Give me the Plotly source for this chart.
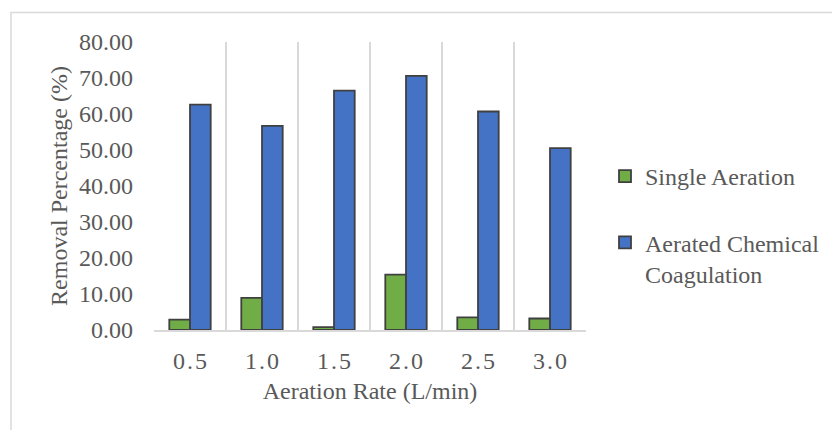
import plotly.graph_objects as go

# Aeration rates (L/min) and removal percentages for the two treatments
rates = ["0\u200a.\u200a5", "1\u200a.\u200a0", "1\u200a.\u200a5", "2\u200a.\u200a0", "2\u200a.\u200a5", "3\u200a.\u200a0"]
single_aeration = [2.9, 8.9, 0.8, 15.4, 3.5, 3.2]
aerated_coagulation = [62.6, 56.7, 66.5, 70.6, 60.7, 50.5]
y_ticks = [0, 10, 20, 30, 40, 50, 60, 70, 80]

W, H = 832, 430
ML, MR, MT, MB = 154, 246, 42, 100
PW, PH = W - ML - MR, H - MT - MB

FONT = "Liberation Serif, Times New Roman, serif"
TXT = "#595959"
GRID = "#d9d9d9"
EDGE = "#404040"
FS = 24

fig = go.Figure()
fig.add_trace(go.Bar(
    x=rates, y=single_aeration, name="Single Aeration",
    marker=dict(color="#70ad47", line=dict(color=EDGE, width=1.8)),
    legendgroup="a",
))
fig.add_trace(go.Bar(
    x=rates, y=aerated_coagulation, name="Aerated Chemical<br>Coagulation",
    marker=dict(color="#4472c4", line=dict(color=EDGE, width=1.8)),
    legendgroup="b",
))

def px_x(p):
    return (p - ML) / PW

def px_y(p):
    return (H - MB - p) / PH

# outer chart frame (left and top edges visible)
fig.add_shape(
    type="path", xref="paper", yref="paper",
    path=f"M {px_x(11)} {px_y(431)} L {px_x(11)} {px_y(12.5)} L {px_x(833)} {px_y(12.5)}",
    line=dict(color=GRID, width=1.5),
)

fig.update_layout(
    width=W, height=H,
    margin=dict(l=ML, r=MR, t=MT, b=MB, autoexpand=False),
    paper_bgcolor="white", plot_bgcolor="white",
    barmode="group", bargap=0.425, bargroupgap=0,
    font=dict(family=FONT, color=TXT, size=FS),
    legend=dict(
        x=px_x(605), y=px_y(154), xanchor="left", yanchor="top",
        traceorder="grouped", tracegroupgap=32, valign="top",
        font=dict(family=FONT, size=FS, color=TXT),
        bgcolor="rgba(0,0,0,0)",
    ),
    xaxis=dict(
        type="category", tickson="boundaries",
        showgrid=True, gridcolor=GRID, gridwidth=1.5,
        showline=True, linecolor=GRID, linewidth=1.5,
        ticks="", tickfont=dict(size=FS, color=TXT),
        ticklabelstandoff=8,
        title=dict(text="Aeration Rate (L/min)", font=dict(size=FS, color=TXT), standoff=10),
        range=[-0.5, 5.5], fixedrange=True,
    ),
    yaxis=dict(
        range=[0, 80], tickvals=y_ticks,
        ticktext=[f"{v:.2f}" for v in y_ticks],
        showgrid=False, zeroline=False, showline=False, ticks="",
        tickfont=dict(size=FS, color=TXT),
        ticklabelstandoff=20,
        title=dict(text="Removal Percentage (%)", font=dict(size=FS, color=TXT), standoff=4),
        fixedrange=True,
    ),
)

fig.write_html("out.html")
